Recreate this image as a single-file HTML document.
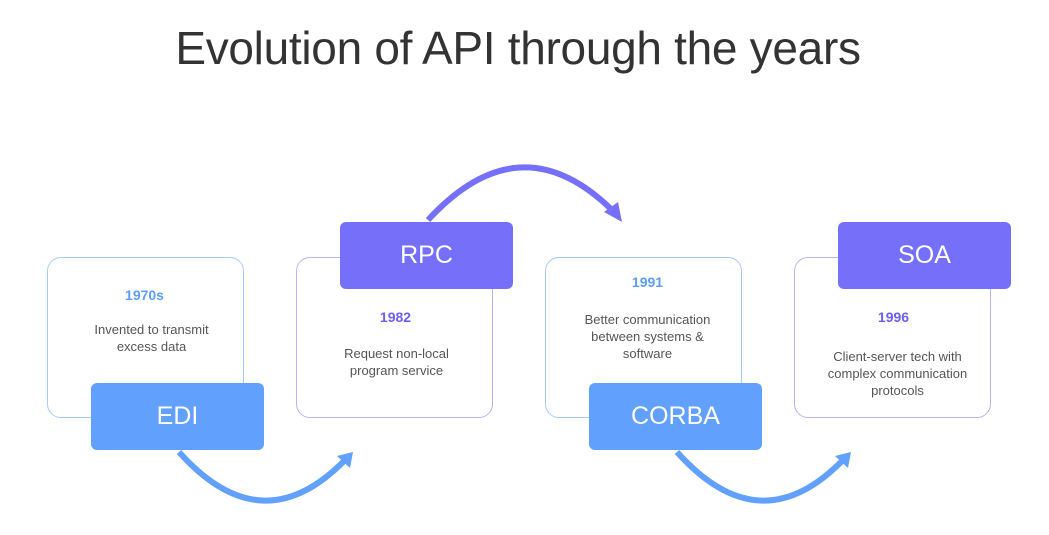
<!DOCTYPE html>
<html><head><style>
body{margin:0;width:1049px;height:535px;background:#fff;position:relative;overflow:hidden;font-family:"Liberation Sans",sans-serif}
.t{position:absolute;left:0;width:1036px;top:21px;text-align:center;font-size:46px;color:#333;letter-spacing:-0.3px}
.box{position:absolute;width:197px;height:161px;border:1.5px solid #a9c9fb;border-radius:14px;box-sizing:border-box}
.box.p{border-color:#b9b3f7}
.lab{position:absolute;width:173px;height:67px;border-radius:6px;color:#fff;font-size:25px;display:flex;align-items:center;justify-content:center}
.b{background:#62a0fd}.pp{background:#766ff9}
.yr{position:absolute;font-weight:bold;font-size:14px;text-align:center;width:195px}
.tx{position:absolute;font-size:13px;color:#555;text-align:center;line-height:17px;width:195px}
</style></head><body>
<div class="t">Evolution of API through the years</div>
<svg width="1049" height="535" style="position:absolute;left:0;top:0">
<g fill="none" stroke-width="6">
<path d="M179 452 Q262 545 345 460" stroke="#62a0fd"/>
<path d="M677 452 Q760 545 843 460" stroke="#62a0fd"/>
<path d="M428 220 Q520 120 612 210" stroke="#766ff9"/>
</g>
<polygon points="353,452 337,456 350,468" fill="#62a0fd"/>
<polygon points="851,452 835,456 848,468" fill="#62a0fd"/>
<polygon points="622,222 604,212 618,202" fill="#766ff9"/>
</svg>
<div class="box" style="left:47px;top:257px"></div>
<div class="yr" style="left:47px;top:287px;color:#5c9dfb">1970s</div>
<div class="tx" style="left:54px;top:321px">Invented to transmit<br>excess data</div>
<div class="lab b" style="left:91px;top:383px">EDI</div>
<div class="box p" style="left:296px;top:257px"></div>
<div class="lab pp" style="left:340px;top:222px">RPC</div>
<div class="yr" style="left:298px;top:309px;color:#6a5ff5">1982</div>
<div class="tx" style="left:299px;top:345px">Request non-local<br>program service</div>
<div class="box" style="left:545px;top:257px"></div>
<div class="yr" style="left:550px;top:274px;color:#5c9dfb">1991</div>
<div class="tx" style="left:550px;top:311px">Better communication<br>between systems &amp;<br>software</div>
<div class="lab b" style="left:589px;top:383px">CORBA</div>
<div class="box p" style="left:794px;top:257px"></div>
<div class="lab pp" style="left:838px;top:222px">SOA</div>
<div class="yr" style="left:796px;top:309px;color:#6a5ff5">1996</div>
<div class="tx" style="left:800px;top:348px">Client-server tech with<br>complex communication<br>protocols</div>
</body></html>
